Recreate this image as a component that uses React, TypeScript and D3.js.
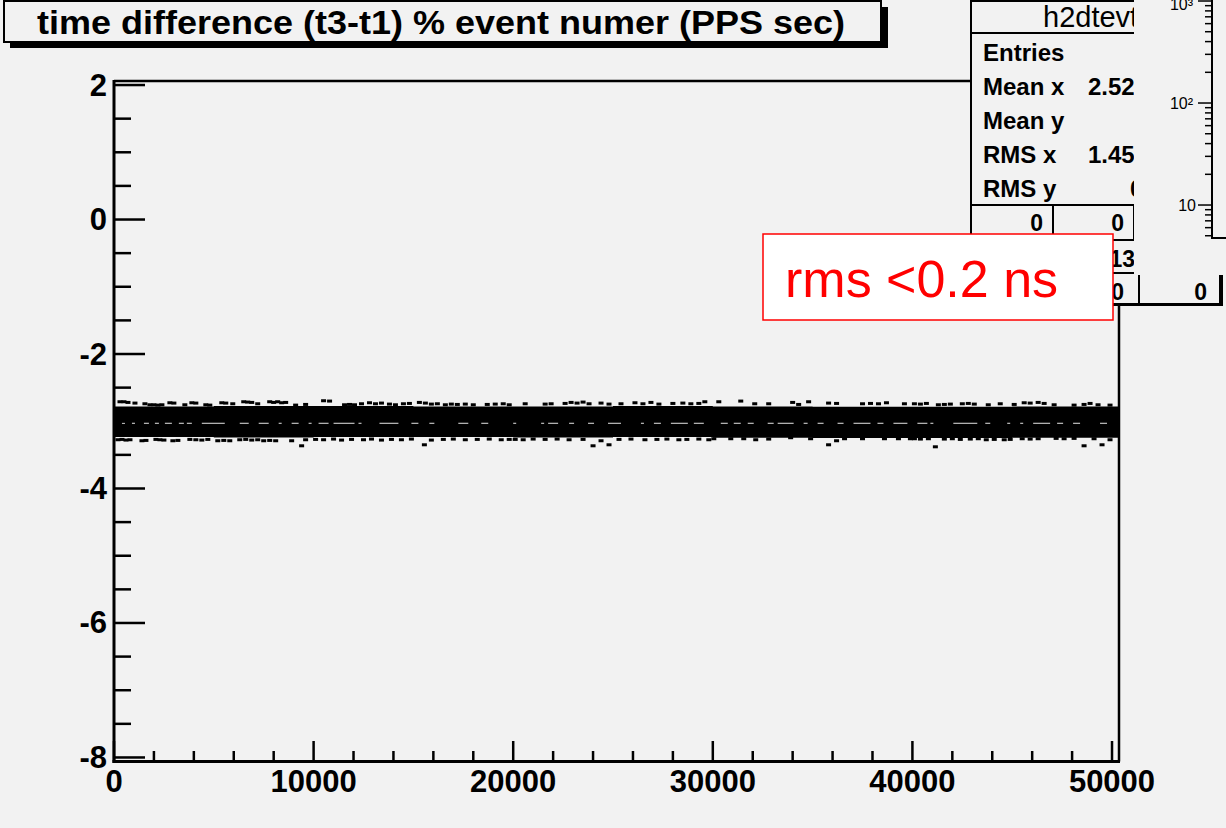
import React from 'react';
import * as d3 from 'd3';

// axis ticks
const xMajorTicks = [0, 10000, 20000, 30000, 40000, 50000];
const yMajorTicks = [2, 0, -2, -4, -6, -8];

// dense core of the (t3-t1) band, per block of events
const bandEvents = [0, 5000, 10000, 15000, 20000, 25000, 30000, 35000, 40000, 45000, 50350];
const bandUpper = [-2.78, -2.775, -2.775, -2.78, -2.78, -2.775, -2.78, -2.785, -2.785, -2.78, -2.78];
const bandLower = [-3.235, -3.24, -3.235, -3.235, -3.24, -3.235, -3.245, -3.25, -3.25, -3.245, -3.245];

// sparse entries just above the core [event, ns]
const upperFringe: [number, number][] = [
  [300, -2.71], [500, -2.71], [700, -2.72], [1050, -2.73], [1550, -2.74], [1800, -2.755], [2000, -2.755],
  [2200, -2.76], [2400, -2.755], [2800, -2.725], [3000, -2.73], [3550, -2.755], [3900, -2.725], [4100, -2.73],
  [4600, -2.755], [4800, -2.76], [5400, -2.725], [5600, -2.73], [5950, -2.74], [6500, -2.71], [6700, -2.715],
  [6900, -2.72], [7200, -2.74], [7800, -2.71], [8000, -2.72], [8200, -2.71], [8400, -2.725], [8600, -2.72],
  [9100, -2.76], [9600, -2.75], [10500, -2.695], [10800, -2.7], [11550, -2.755], [11800, -2.75], [12050, -2.755],
  [12400, -2.74], [12800, -2.725], [13100, -2.74], [13400, -2.73], [13800, -2.745], [14100, -2.755],
  [14500, -2.74], [14800, -2.735], [15300, -2.72], [15600, -2.73], [15900, -2.745], [16200, -2.74],
  [16600, -2.755], [16900, -2.745], [17200, -2.75], [17600, -2.745], [18000, -2.755], [18700, -2.75],
  [19100, -2.745], [19500, -2.74], [19800, -2.755], [20600, -2.74], [21600, -2.745], [21900, -2.74],
  [22600, -2.735], [22900, -2.72], [23200, -2.73], [23500, -2.715], [23800, -2.74], [24400, -2.73],
  [24800, -2.745], [25400, -2.74], [26100, -2.725], [26500, -2.74], [26900, -2.72], [27300, -2.745],
  [28000, -2.735], [28500, -2.73], [28900, -2.74], [29300, -2.735], [29600, -2.71], [30300, -2.71],
  [31400, -2.7], [32100, -2.74], [32800, -2.74], [34000, -2.72], [34300, -2.75], [34800, -2.71],
  [35800, -2.73], [36200, -2.735], [37500, -2.74], [37900, -2.735], [38300, -2.74], [38700, -2.725],
  [39600, -2.74], [40100, -2.74], [40400, -2.745], [40700, -2.735], [41300, -2.755], [41600, -2.75],
  [41900, -2.745], [42500, -2.74], [42800, -2.735], [43100, -2.745], [43800, -2.755], [44400, -2.74],
  [45100, -2.75], [45600, -2.725], [45900, -2.73], [46300, -2.72], [46600, -2.735], [47100, -2.755],
  [48100, -2.76], [48600, -2.75], [48900, -2.735], [49300, -2.755], [49900, -2.76],
];

// sparse entries just below the core [event, ns]
const lowerFringe: [number, number][] = [
  [200, -3.275], [400, -3.27], [600, -3.28], [800, -3.275], [1400, -3.29], [1600, -3.285], [2100, -3.27],
  [2300, -3.275], [2500, -3.28], [2950, -3.29], [3200, -3.285], [3800, -3.27], [4100, -3.275], [4400, -3.28],
  [4700, -3.27], [5200, -3.29], [5500, -3.285], [5800, -3.29], [6300, -3.275], [6600, -3.27], [6900, -3.28],
  [7200, -3.275], [7500, -3.29], [7800, -3.285], [8100, -3.29], [8900, -3.29], [9400, -3.365], [9600, -3.275],
  [10100, -3.27], [10500, -3.275], [11000, -3.265], [11400, -3.28], [11900, -3.27], [12500, -3.275],
  [12900, -3.265], [13400, -3.28], [13900, -3.27], [14400, -3.275], [14900, -3.265], [15550, -3.35],
  [15900, -3.28], [16500, -3.27], [17000, -3.265], [17600, -3.275], [18200, -3.27], [18800, -3.265],
  [19400, -3.275], [19800, -3.27], [20100, -3.27], [20500, -3.275], [21000, -3.265], [21600, -3.27],
  [22200, -3.265], [22800, -3.275], [23500, -3.27], [24000, -3.365], [24400, -3.29], [24800, -3.35],
  [25300, -3.27], [25900, -3.265], [26600, -3.275], [27200, -3.27], [27700, -3.265], [28300, -3.275],
  [28700, -3.27], [29300, -3.265], [29800, -3.275], [30050, -3.26], [30900, -3.26], [31550, -3.26],
  [32150, -3.275], [32800, -3.265], [33900, -3.245], [34900, -3.26], [35800, -3.35], [36200, -3.29],
  [36600, -3.26], [37500, -3.26], [38600, -3.26], [39300, -3.26], [39900, -3.26], [40100, -3.26],
  [40400, -3.265], [40800, -3.26], [41150, -3.38], [41600, -3.265], [42000, -3.26], [42400, -3.27],
  [42900, -3.265], [43300, -3.26], [43700, -3.275], [44100, -3.27], [44600, -3.275], [44900, -3.27],
  [45500, -3.26], [45900, -3.265], [46300, -3.26], [47200, -3.255], [47600, -3.26], [48100, -3.255],
  [48600, -3.365], [49100, -3.26], [49500, -3.35], [49900, -3.275],
];

// empty bins along the band centre (-3.03 ns) [from event, to event]
const gapValue = -3.03;
const gapDashes: [number, number][] = [
  [400, 550], [900, 1050], [1500, 1750], [2050, 2250], [2550, 2900], [3250, 3500], [3650, 3900], [4400, 5550],
  [6300, 6750], [7250, 7750], [8250, 8400], [8900, 9250], [9750, 9900], [10250, 10750], [11000, 12050],
  [12250, 12400], [13300, 14250], [14900, 15250], [15800, 16050], [17250, 17750], [18400, 18750],
  [20000, 20150], [21400, 21550], [21750, 22250], [22800, 23050], [23750, 24050], [24750, 25400],
  [26400, 26550], [27050, 27400], [27900, 28750], [29050, 29550], [30400, 30750], [31050, 31400],
  [31750, 32050], [32750, 33050], [33250, 34050], [34550, 34750], [35250, 35550], [36250, 36550],
  [37050, 37900], [38250, 38550], [39050, 39750], [40250, 40750], [40900, 41050], [42050, 43250],
  [43650, 43900], [44750, 44900], [45400, 45550], [46050, 46900], [47250, 47550], [48050, 48400],
  [49400, 49750],
];

// stats box (only what is left visible beside the neighbouring panel)
const statsTitle = 'h2dtevt';
const statsLabels = ['Entries', 'Mean x', 'Mean y', 'RMS x', 'RMS y'];
const statsValues = ['', '2.522', '', '1.452', '0'];

// neighbouring log-scale panel
const logDecades = [10, 100, 1000];
const logDecadeLabels = ['10', '10²', '10³'];

const BG = '#f2f2f2';
const FONT = '"Liberation Sans", Arial, Helvetica, sans-serif';

export default function App() {
  const width = 1226;
  const height = 828;

  const x = d3.scaleLinear().domain([0, 50350]).range([114, 1119]);
  const y = d3.scaleLinear().domain([-8.06, 2.06]).range([761.5, 81]);

  const xMinor = d3.range(0, 50001, 2000).filter((v) => v % 10000 !== 0);
  const yMinor = d3.range(-8, 2.01, 0.5).filter((v) => Math.abs(v % 2) > 0.01);

  const band = d3
    .area<number>()
    .x((_, i) => x(bandEvents[i]))
    .y0((_, i) => y(bandLower[i]))
    .y1((_, i) => y(bandUpper[i]))
    .curve(d3.curveStepAfter);

  const logY = d3.scaleLog().domain([4.75, 1023]).range([238, 0]);
  const logMinor: number[] = [];
  [1, 10, 100].forEach((d) => {
    for (let k = 2; k <= 9; k++) {
      const v = d * k;
      if (v >= 4.75 && v <= 1023) logMinor.push(v);
    }
  });

  return (
    <svg
      width={width}
      height={height}
      style={{ position: 'absolute', left: 0, top: 0, fontFamily: FONT }}
    >
      <defs>
        <clipPath id="stats-clip">
          <rect x={960} y={0} width={174} height={275} />
        </clipPath>
      </defs>
      <rect x={0} y={0} width={width} height={height} fill={BG} />

      {/* data band */}
      <path d={band(bandEvents) || ''} fill="#000" />
      {upperFringe.concat(lowerFringe).map(([e, v], i) => (
        <rect key={i} x={x(e) - 2.5} y={y(v) - 1.5} width={5} height={3} fill="#000" />
      ))}
      {gapDashes.map(([a, b], i) => (
        <line key={i} x1={x(a)} x2={x(b)} y1={y(gapValue)} y2={y(gapValue)} stroke="#e6e6e6" strokeWidth={1} />
      ))}

      {/* frame */}
      <line x1={114} x2={1119} y1={81} y2={81} stroke="#000" strokeWidth={2.5} />
      <line x1={1119} x2={1119} y1={81} y2={761.5} stroke="#000" strokeWidth={2.5} />
      <line x1={114} x2={114} y1={80} y2={763} stroke="#000" strokeWidth={3} />
      <line x1={112.5} x2={1120} y1={761.5} y2={761.5} stroke="#000" strokeWidth={3} />

      {/* y ticks */}
      {yMajorTicks.map((t) => (
        <g key={t}>
          <line x1={114} x2={145} y1={y(t)} y2={y(t)} stroke="#000" strokeWidth={2.5} />
          <text
            x={107}
            y={y(t)}
            textAnchor="end"
            dominantBaseline="central"
            fontSize={31}
            fontWeight="bold"
          >
            {t}
          </text>
        </g>
      ))}
      {yMinor.map((t) => (
        <line key={t} x1={114} x2={131} y1={y(t)} y2={y(t)} stroke="#000" strokeWidth={2.5} />
      ))}

      {/* x ticks */}
      {xMajorTicks.map((t) => (
        <g key={t}>
          <line x1={x(t)} x2={x(t)} y1={761.5} y2={741} stroke="#000" strokeWidth={2.5} />
          <text x={x(t)} y={792} textAnchor="middle" fontSize={31} fontWeight="bold">
            {t}
          </text>
        </g>
      ))}
      {xMinor.map((t) => (
        <line key={t} x1={x(t)} x2={x(t)} y1={761.5} y2={751} stroke="#000" strokeWidth={2.5} />
      ))}

      {/* title box */}
      <rect x={10} y={7} width={878} height={41} fill="#000" />
      <rect x={4} y={1} width={877} height={41} fill={BG} stroke="#000" strokeWidth={2} />
      <text
        x={441}
        y={34}
        textAnchor="middle"
        fontSize={33}
        fontWeight="bold"
        textLength={808}
        lengthAdjust="spacingAndGlyphs"
      >
        time difference (t3-t1) % event numer (PPS sec)
      </text>

      {/* stats box */}
      <rect x={975} y={4} width={248} height={302} fill="#000" />
      <rect x={971} y={1} width={249} height={303} fill={BG} stroke="#000" strokeWidth={2} />
      <line x1={971} x2={1220} y1={33} y2={33} stroke="#000" strokeWidth={2} />
      <g clipPath="url(#stats-clip)">
        <text x={1043} y={27} fontSize={29}>{statsTitle}</text>
        {statsLabels.map((s, i) => (
          <g key={s}>
            <text x={983} y={61 + i * 34} fontSize={24} fontWeight="bold">
              {s}
            </text>
            {statsValues[i] && (
              <text x={i === 4 ? 1130 : 1088} y={61 + i * 34} fontSize={24} fontWeight="bold">
                {statsValues[i]}
              </text>
            )}
          </g>
        ))}
        <text x={1043} y={231} fontSize={23} fontWeight="bold" textAnchor="end">0</text>
        <text x={1124} y={231} fontSize={23} fontWeight="bold" textAnchor="end">0</text>
        <text x={1135} y={267} fontSize={23} fontWeight="bold" textAnchor="end">50013</text>
      </g>
      <line x1={971} x2={1220} y1={205} y2={205} stroke="#000" strokeWidth={2} />
      <line x1={1053} x2={1053} y1={205} y2={240} stroke="#000" strokeWidth={2} />
      <line x1={1134} x2={1134} y1={205} y2={240} stroke="#000" strokeWidth={2} />
      <line x1={971} x2={1220} y1={240} y2={240} stroke="#000" strokeWidth={2} />
      <line x1={971} x2={1220} y1={273} y2={273} stroke="#000" strokeWidth={2} />
      <line x1={1053} x2={1053} y1={273} y2={305} stroke="#000" strokeWidth={2} />
      <line x1={1139} x2={1139} y1={273} y2={305} stroke="#000" strokeWidth={2} />
      <text x={1124} y={300} fontSize={23} fontWeight="bold" textAnchor="end">0</text>
      <text x={1207} y={300} fontSize={23} fontWeight="bold" textAnchor="end">0</text>

      {/* neighbouring log panel */}
      <rect x={1134} y={0} width={92} height={275} fill={BG} />
      <line x1={1212} x2={1212} y1={0} y2={238} stroke="#000" strokeWidth={2} />
      <line x1={1211} x2={1226} y1={238} y2={238} stroke="#000" strokeWidth={2} />
      {logMinor.map((v) => (
        <line key={v} x1={1205} x2={1212} y1={logY(v)} y2={logY(v)} stroke="#000" strokeWidth={1.5} />
      ))}
      {logDecades.map((v, i) => (
        <g key={v}>
          <line x1={1198} x2={1212} y1={logY(v)} y2={logY(v)} stroke="#000" strokeWidth={1.5} />
          <text
            x={i === 0 ? 1196 : 1193}
            y={Math.max(logY(v) + 6, 10)}
            fontSize={16}
            textAnchor="end"
          >
            {logDecadeLabels[i]}
          </text>
        </g>
      ))}

      {/* annotation */}
      <rect x={763} y={234} width={350} height={86} fill="#fff" stroke="#ff0000" strokeWidth={1.5} />
      <text x={785} y={297} fontSize={52} fill="#ff0000">
        rms &lt;0.2 ns
      </text>
    </svg>
  );
}
